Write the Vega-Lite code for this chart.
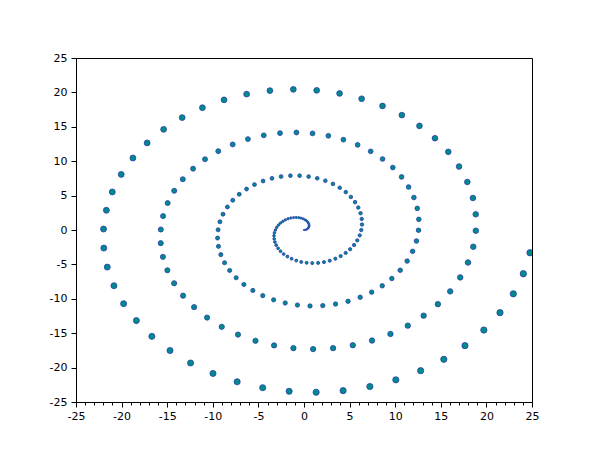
{
  "$schema": "https://vega.github.io/schema/vega-lite/v6.json",
  "width": 456,
  "height": 344,
  "autosize": {"type": "none"},
  "padding": {"left": 76, "top": 58, "right": 78, "bottom": 58},
  "background": "white",
  "config": {
    "view": {"stroke": "black", "strokeWidth": 1},
    "axis": {
      "title": null,
      "grid": false,
      "domainColor": "black",
      "domainWidth": 1,
      "tickColor": "black",
      "tickWidth": 1,
      "labelColor": "black",
      "labelFont": "DejaVu Sans",
      "labelFontSize": 11,
      "labelOverlap": false,
      "labelFlush": false
    }
  },
  "data": {
    "values": [
      {"t": 0, "x": 0, "y": 0},
      {"t": 0.126, "x": 0.12, "y": 0.02},
      {"t": 0.251, "x": 0.24, "y": 0.06},
      {"t": 0.377, "x": 0.35, "y": 0.14},
      {"t": 0.503, "x": 0.44, "y": 0.24},
      {"t": 0.628, "x": 0.51, "y": 0.37},
      {"t": 0.754, "x": 0.55, "y": 0.52},
      {"t": 0.879, "x": 0.56, "y": 0.68},
      {"t": 1.005, "x": 0.54, "y": 0.85},
      {"t": 1.131, "x": 0.48, "y": 1.02},
      {"t": 1.256, "x": 0.39, "y": 1.19},
      {"t": 1.382, "x": 0.26, "y": 1.36},
      {"t": 1.508, "x": 0.10, "y": 1.50},
      {"t": 1.633, "x": -0.10, "y": 1.63},
      {"t": 1.759, "x": -0.33, "y": 1.73},
      {"t": 1.884, "x": -0.58, "y": 1.79},
      {"t": 2.010, "x": -0.85, "y": 1.82},
      {"t": 2.136, "x": -1.14, "y": 1.80},
      {"t": 2.261, "x": -1.44, "y": 1.74},
      {"t": 2.387, "x": -1.74, "y": 1.64},
      {"t": 2.513, "x": -2.03, "y": 1.48},
      {"t": 2.638, "x": -2.31, "y": 1.27},
      {"t": 2.764, "x": -2.57, "y": 1.02},
      {"t": 2.889, "x": -2.80, "y": 0.72},
      {"t": 3.015, "x": -2.99, "y": 0.38},
      {"t": 3.141, "x": -3.14, "y": 0.00},
      {"t": 3.266, "x": -3.24, "y": -0.41},
      {"t": 3.392, "x": -3.29, "y": -0.84},
      {"t": 3.518, "x": -3.27, "y": -1.29},
      {"t": 3.643, "x": -3.19, "y": -1.75},
      {"t": 3.769, "x": -3.05, "y": -2.21},
      {"t": 3.894, "x": -2.84, "y": -2.66},
      {"t": 4.020, "x": -2.57, "y": -3.09},
      {"t": 4.146, "x": -2.23, "y": -3.50},
      {"t": 4.271, "x": -1.82, "y": -3.86},
      {"t": 4.397, "x": -1.36, "y": -4.18},
      {"t": 4.523, "x": -0.85, "y": -4.44},
      {"t": 4.648, "x": -0.30, "y": -4.64},
      {"t": 4.774, "x": 0.29, "y": -4.76},
      {"t": 4.899, "x": 0.91, "y": -4.81},
      {"t": 5.025, "x": 1.55, "y": -4.78},
      {"t": 5.151, "x": 2.19, "y": -4.66},
      {"t": 5.276, "x": 2.82, "y": -4.46},
      {"t": 5.402, "x": 3.44, "y": -4.17},
      {"t": 5.528, "x": 4.02, "y": -3.79},
      {"t": 5.653, "x": 4.57, "y": -3.33},
      {"t": 5.779, "x": 5.06, "y": -2.79},
      {"t": 5.905, "x": 5.49, "y": -2.18},
      {"t": 6.030, "x": 5.84, "y": -1.51},
      {"t": 6.156, "x": 6.11, "y": -0.78},
      {"t": 6.281, "x": 6.28, "y": -0.01},
      {"t": 6.407, "x": 6.36, "y": 0.79},
      {"t": 6.533, "x": 6.33, "y": 1.61},
      {"t": 6.658, "x": 6.20, "y": 2.44},
      {"t": 6.784, "x": 5.95, "y": 3.26},
      {"t": 6.910, "x": 5.60, "y": 4.05},
      {"t": 7.035, "x": 5.14, "y": 4.81},
      {"t": 7.161, "x": 4.58, "y": 5.51},
      {"t": 7.286, "x": 3.92, "y": 6.14},
      {"t": 7.412, "x": 3.17, "y": 6.70},
      {"t": 7.538, "x": 2.34, "y": 7.16},
      {"t": 7.663, "x": 1.45, "y": 7.52},
      {"t": 7.789, "x": 0.51, "y": 7.77},
      {"t": 7.915, "x": -0.48, "y": 7.90},
      {"t": 8.040, "x": -1.49, "y": 7.90},
      {"t": 8.166, "x": -2.51, "y": 7.77},
      {"t": 8.291, "x": -3.51, "y": 7.51},
      {"t": 8.417, "x": -4.49, "y": 7.12},
      {"t": 8.543, "x": -5.43, "y": 6.60},
      {"t": 8.668, "x": -6.30, "y": 5.95},
      {"t": 8.794, "x": -7.10, "y": 5.19},
      {"t": 8.920, "x": -7.81, "y": 4.32},
      {"t": 9.045, "x": -8.40, "y": 3.35},
      {"t": 9.171, "x": -8.88, "y": 2.30},
      {"t": 9.296, "x": -9.22, "y": 1.19},
      {"t": 9.422, "x": -9.42, "y": 0.03},
      {"t": 9.548, "x": -9.48, "y": -1.17},
      {"t": 9.673, "x": -9.38, "y": -2.38},
      {"t": 9.799, "x": -9.12, "y": -3.58},
      {"t": 9.925, "x": -8.71, "y": -4.76},
      {"t": 10.050, "x": -8.15, "y": -5.88},
      {"t": 10.176, "x": -7.44, "y": -6.94},
      {"t": 10.302, "x": -6.59, "y": -7.92},
      {"t": 10.427, "x": -5.61, "y": -8.79},
      {"t": 10.553, "x": -4.52, "y": -9.54},
      {"t": 10.678, "x": -3.33, "y": -10.15},
      {"t": 10.804, "x": -2.06, "y": -10.61},
      {"t": 10.930, "x": -0.72, "y": -10.91},
      {"t": 11.055, "x": 0.66, "y": -11.04},
      {"t": 11.181, "x": 2.06, "y": -10.99},
      {"t": 11.307, "x": 3.46, "y": -10.76},
      {"t": 11.432, "x": 4.83, "y": -10.36},
      {"t": 11.558, "x": 6.16, "y": -9.78},
      {"t": 11.683, "x": 7.42, "y": -9.03},
      {"t": 11.809, "x": 8.58, "y": -8.11},
      {"t": 11.935, "x": 9.63, "y": -7.05},
      {"t": 12.060, "x": 10.55, "y": -5.85},
      {"t": 12.186, "x": 11.31, "y": -4.52},
      {"t": 12.312, "x": 11.91, "y": -3.10},
      {"t": 12.437, "x": 12.33, "y": -1.60},
      {"t": 12.563, "x": 12.56, "y": -0.04},
      {"t": 12.688, "x": 12.59, "y": 1.55},
      {"t": 12.814, "x": 12.42, "y": 3.14},
      {"t": 12.940, "x": 12.05, "y": 4.72},
      {"t": 13.065, "x": 11.47, "y": 6.25},
      {"t": 13.191, "x": 10.70, "y": 7.71},
      {"t": 13.317, "x": 9.74, "y": 9.08},
      {"t": 13.442, "x": 8.61, "y": 10.32},
      {"t": 13.568, "x": 7.31, "y": 11.43},
      {"t": 13.693, "x": 5.88, "y": 12.37},
      {"t": 13.819, "x": 4.32, "y": 13.13},
      {"t": 13.945, "x": 2.67, "y": 13.69},
      {"t": 14.070, "x": 0.94, "y": 14.04},
      {"t": 14.196, "x": -0.83, "y": 14.17},
      {"t": 14.322, "x": -2.63, "y": 14.08},
      {"t": 14.447, "x": -4.41, "y": 13.76},
      {"t": 14.573, "x": -6.15, "y": 13.21},
      {"t": 14.698, "x": -7.82, "y": 12.44},
      {"t": 14.824, "x": -9.40, "y": 11.46},
      {"t": 14.950, "x": -10.85, "y": 10.28},
      {"t": 15.075, "x": -12.16, "y": 8.91},
      {"t": 15.201, "x": -13.29, "y": 7.38},
      {"t": 15.327, "x": -14.23, "y": 5.70},
      {"t": 15.452, "x": -14.95, "y": 3.91},
      {"t": 15.578, "x": -15.45, "y": 2.02},
      {"t": 15.704, "x": -15.70, "y": 0.07},
      {"t": 15.829, "x": -15.71, "y": -1.91},
      {"t": 15.955, "x": -15.47, "y": -3.90},
      {"t": 16.080, "x": -14.98, "y": -5.85},
      {"t": 16.206, "x": -14.24, "y": -7.74},
      {"t": 16.332, "x": -13.26, "y": -9.54},
      {"t": 16.457, "x": -12.05, "y": -11.21},
      {"t": 16.583, "x": -10.63, "y": -12.73},
      {"t": 16.709, "x": -9.02, "y": -14.07},
      {"t": 16.834, "x": -7.24, "y": -15.20},
      {"t": 16.960, "x": -5.32, "y": -16.10},
      {"t": 17.085, "x": -3.28, "y": -16.77},
      {"t": 17.211, "x": -1.16, "y": -17.17},
      {"t": 17.337, "x": 1.00, "y": -17.31},
      {"t": 17.462, "x": 3.19, "y": -17.17},
      {"t": 17.588, "x": 5.35, "y": -16.75},
      {"t": 17.714, "x": 7.46, "y": -16.07},
      {"t": 17.839, "x": 9.48, "y": -15.11},
      {"t": 17.965, "x": 11.38, "y": -13.90},
      {"t": 18.090, "x": 13.12, "y": -12.45},
      {"t": 18.216, "x": 14.68, "y": -10.78},
      {"t": 18.342, "x": 16.03, "y": -8.92},
      {"t": 18.467, "x": 17.13, "y": -6.89},
      {"t": 18.593, "x": 17.98, "y": -4.72},
      {"t": 18.719, "x": 18.56, "y": -2.44},
      {"t": 18.844, "x": 18.84, "y": -0.10},
      {"t": 18.970, "x": 18.83, "y": 2.28},
      {"t": 19.095, "x": 18.52, "y": 4.65},
      {"t": 19.221, "x": 17.91, "y": 6.98},
      {"t": 19.347, "x": 17.00, "y": 9.23},
      {"t": 19.472, "x": 15.82, "y": 11.36},
      {"t": 19.598, "x": 14.36, "y": 13.34},
      {"t": 19.724, "x": 12.66, "y": 15.13},
      {"t": 19.849, "x": 10.73, "y": 16.70},
      {"t": 19.975, "x": 8.61, "y": 18.03},
      {"t": 20.101, "x": 6.32, "y": 19.08},
      {"t": 20.226, "x": 3.90, "y": 19.85},
      {"t": 20.352, "x": 1.39, "y": 20.30},
      {"t": 20.477, "x": -1.17, "y": 20.44},
      {"t": 20.603, "x": -3.74, "y": 20.26},
      {"t": 20.729, "x": -6.29, "y": 19.75},
      {"t": 20.854, "x": -8.77, "y": 18.92},
      {"t": 20.980, "x": -11.14, "y": 17.78},
      {"t": 21.106, "x": -13.36, "y": 16.34},
      {"t": 21.231, "x": -15.39, "y": 14.63},
      {"t": 21.357, "x": -17.20, "y": 12.66},
      {"t": 21.482, "x": -18.76, "y": 10.46},
      {"t": 21.608, "x": -20.04, "y": 8.08},
      {"t": 21.734, "x": -21.02, "y": 5.53},
      {"t": 21.859, "x": -21.67, "y": 2.87},
      {"t": 21.985, "x": -21.98, "y": 0.14},
      {"t": 22.111, "x": -21.95, "y": -2.63},
      {"t": 22.236, "x": -21.57, "y": -5.39},
      {"t": 22.362, "x": -20.84, "y": -8.10},
      {"t": 22.487, "x": -19.78, "y": -10.71},
      {"t": 22.613, "x": -18.38, "y": -13.17},
      {"t": 22.739, "x": -16.68, "y": -15.46},
      {"t": 22.864, "x": -14.69, "y": -17.52},
      {"t": 22.990, "x": -12.44, "y": -19.33},
      {"t": 23.116, "x": -9.98, "y": -20.85},
      {"t": 23.241, "x": -7.33, "y": -22.06},
      {"t": 23.367, "x": -4.53, "y": -22.92},
      {"t": 23.492, "x": -1.63, "y": -23.44},
      {"t": 23.618, "x": 1.33, "y": -23.58},
      {"t": 23.744, "x": 4.29, "y": -23.35},
      {"t": 23.869, "x": 7.22, "y": -22.75},
      {"t": 23.995, "x": 10.07, "y": -21.78},
      {"t": 24.121, "x": 12.79, "y": -20.45},
      {"t": 24.246, "x": 15.33, "y": -18.79},
      {"t": 24.372, "x": 17.65, "y": -16.81},
      {"t": 24.497, "x": 19.72, "y": -14.54},
      {"t": 24.623, "x": 21.49, "y": -12.01},
      {"t": 24.749, "x": 22.95, "y": -9.27},
      {"t": 24.874, "x": 24.05, "y": -6.36},
      {"t": 25.000, "x": 24.78, "y": -3.31}
    ]
  },
  "mark": {
    "type": "point",
    "shape": "circle",
    "filled": true,
    "fill": "#008b8b",
    "stroke": "#2a3cb0",
    "strokeWidth": 0.8,
    "opacity": 1,
    "clip": true
  },
  "encoding": {
    "x": {
      "field": "x",
      "type": "quantitative",
      "scale": {"domain": [-25, 25], "nice": false, "zero": false},
      "axis": {
        "values": [-25,-24,-23,-22,-21,-20,-19,-18,-17,-16,-15,-14,-13,-12,-11,-10,-9,-8,-7,-6,-5,-4,-3,-2,-1,0,1,2,3,4,5,6,7,8,9,10,11,12,13,14,15,16,17,18,19,20,21,22,23,24,25],
        "labelExpr": "datum.value % 5 === 0 ? '' + datum.value : ''",
        "tickSize": {"condition": {"test": "datum.value % 5 === 0", "value": 5}, "value": 3},
        "labelPadding": 3
      }
    },
    "y": {
      "field": "y",
      "type": "quantitative",
      "scale": {"domain": [-25, 25], "nice": false, "zero": false},
      "axis": {
        "values": [-25, -20, -15, -10, -5, 0, 5, 10, 15, 20, 25],
        "labelExpr": "'' + datum.value",
        "tickSize": 5,
        "labelPadding": 4
      }
    },
    "size": {
      "field": "t",
      "type": "quantitative",
      "scale": {"domain": [0, 25], "range": [2, 40]},
      "legend": null
    }
  }
}
